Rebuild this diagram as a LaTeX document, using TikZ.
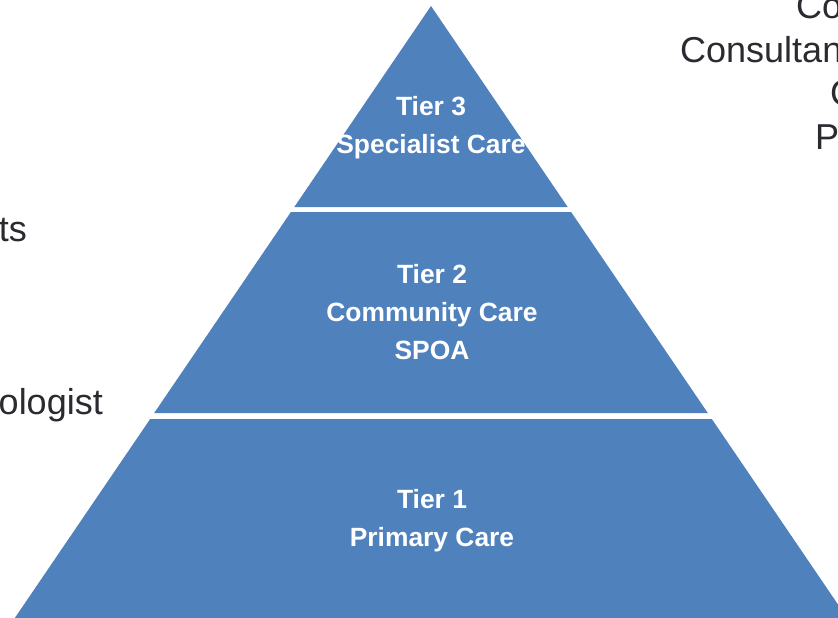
\documentclass[tikz,border=0pt]{standalone}
\usepackage{fontspec}
\setmainfont{Liberation Sans}
\definecolor{tierblue}{HTML}{4F81BD}
\definecolor{sidetext}{HTML}{2A2A30}
\tikzset{
  tier/.style={fill=tierblue, draw=none},
  tierlabel/.style={text=white, font=\fontsize{26.4}{30}\selectfont\bfseries, inner sep=0pt, anchor=base},
  sidelabel/.style={text=sidetext, font=\fontsize{36}{40}\selectfont, inner sep=0pt}
}
\begin{document}
\begin{tikzpicture}[x=1pt,y=-1pt]
\path[use as bounding box, clip] (0,0) rectangle (838,618);
\fill[white] (0,0) rectangle (838,618);
% pyramid segments
\path[tier] (431,6) -- (567.7,207) -- (294.3,207) -- cycle;
\path[tier] (290.9,212) -- (571.1,212) -- (707.8,413) -- (154.2,413) -- cycle;
\path[tier] (150.2,419) -- (711.8,419) -- (847.2,618) -- (14.8,618) -- cycle;
% tier labels
\node[tierlabel] (t3a) at (431,115) {Tier 3};
\node[tierlabel] (t3b) at (431,153) {Specialist Care};
\node[tierlabel] (t2a) at (432,283) {Tier 2};
\node[tierlabel] (t2b) at (432,321) {Community Care};
\node[tierlabel] (t2c) at (432,359) {SPOA};
\node[tierlabel] (t1a) at (432,508) {Tier 1};
\node[tierlabel] (t1b) at (432,546) {Primary Care};
% side texts (cut off by the frame)
\node[sidelabel, anchor=base west] (r1) at (796,19) {Co};
\node[sidelabel, anchor=base west] (r2) at (680,63) {Consultan};
\node[sidelabel, anchor=base west] (r3) at (830,106) {C};
\node[sidelabel, anchor=base west] (r4) at (815,149) {P};
\node[sidelabel, anchor=base east] (l1) at (27,241) {ts};
\node[sidelabel, anchor=base east] (l2) at (103,414) {ologist};
\end{tikzpicture}
\end{document}
